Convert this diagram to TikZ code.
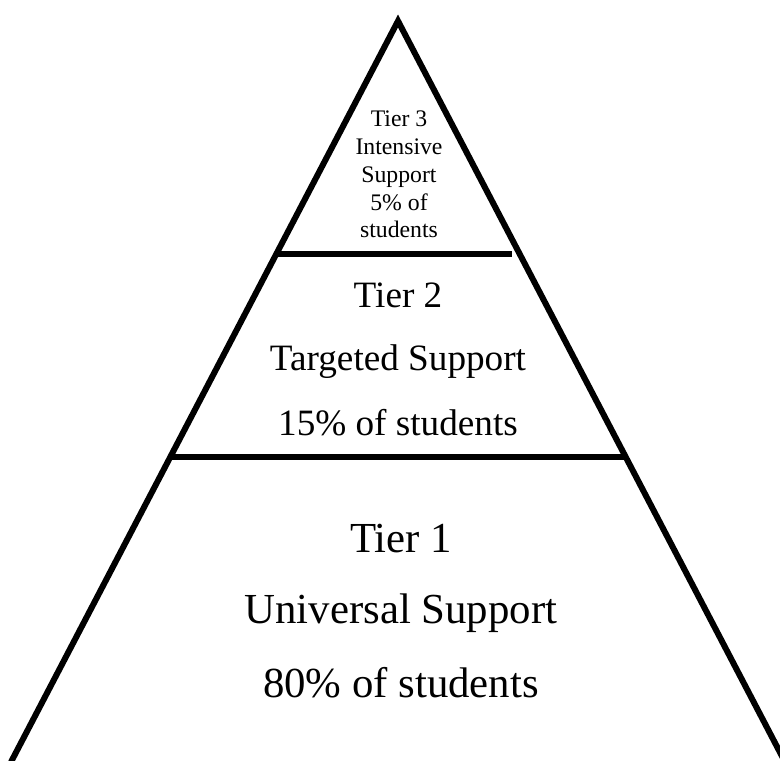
\documentclass[tikz,border=0pt]{standalone}
\usepackage{fontspec}
\setmainfont{Liberation Serif}
\begin{document}
\begin{tikzpicture}[x=0.75pt,y=-0.75pt,
  edge/.style={line width=4.5pt,line join=miter,miter limit=20},
  divider/.style={line width=4.6pt},
  tierthree/.style={anchor=base,inner sep=0pt,font=\fontsize{17.8}{21}\selectfont},
  tiertwo/.style={anchor=base,inner sep=0pt,font=\fontsize{27.9}{33}\selectfont},
  tierone/.style={anchor=base,inner sep=0pt,font=\fontsize{32.1}{38}\selectfont}]
  \useasboundingbox (0,0) rectangle (780,760);
  \begin{scope}
    \clip (0,0) rectangle (780,760);
    % pyramid outline
    \coordinate (apex) at (398,21);
    \coordinate (bl) at (11,762);
    \coordinate (br) at (785,762);
    \draw[edge] (bl) -- (apex) -- (br);
    \draw[gray!60,line width=0.8pt] (bl) -- (br);
    % tier dividers
    \coordinate (d1l) at (277,254);
    \coordinate (d1r) at (512,254);
    \coordinate (d2l) at (171,457);
    \coordinate (d2r) at (624,457);
    \draw[divider] (d1l) -- (d1r);
    \draw[divider] (d2l) -- (d2r);
  \end{scope}
  % Tier 3
  \node[tierthree] (t3a) at (399,126) {Tier 3};
  \node[tierthree] (t3b) at (399,154) {Intensive};
  \node[tierthree] (t3c) at (399,182) {Support};
  \node[tierthree] (t3d) at (399,210) {5\% of};
  \node[tierthree] (t3e) at (399,237) {students};
  % Tier 2
  \node[tiertwo] (t2a) at (398,307) {Tier 2};
  \node[tiertwo] (t2b) at (398,370) {Targeted Support};
  \node[tiertwo] (t2c) at (398,435) {15\% of students};
  % Tier 1
  \node[tierone] (t1a) at (401,552) {Tier 1};
  \node[tierone] (t1b) at (401,623) {Universal Support};
  \node[tierone] (t1c) at (401,697) {80\% of students};
\end{tikzpicture}
\end{document}
